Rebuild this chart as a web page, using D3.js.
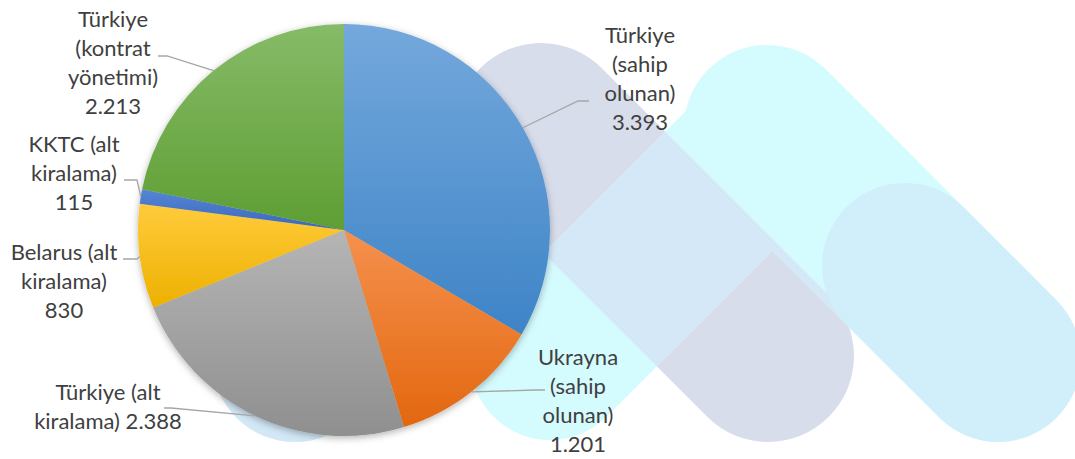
<!DOCTYPE html>
<html>
<head>
<meta charset="utf-8">
<script src="https://cdn.jsdelivr.net/npm/d3@7/dist/d3.min.js"></script>
<style>
  body { margin: 0; background: #fff; }
  .lbl { font-family: Lato, "Open Sans", sans-serif; font-size: 22px; fill: #404040; }
  .leader { fill: none; stroke: #a6a6a6; stroke-width: 1.3; }
</style>
</head>
<body>
<div id="chart"></div>
<script>
// ---- data ----
var categories = ["Türkiye (sahip olunan)", "Ukrayna (sahip olunan)", "Türkiye (alt kiralama)",
                  "Belarus (alt kiralama)", "KKTC (alt kiralama)", "Türkiye (kontrat yönetimi)"];
var values = [3393, 1201, 2388, 830, 115, 2213];

// slice gradients (top, bottom)
var sliceColors = [["#74a8dc", "#3e84c7"], ["#f5914e", "#e3670f"], ["#b5b5b5", "#8f8f8f"],
                   ["#ffcb3c", "#edb100"], ["#5686d6", "#3a67ba"], ["#86bb68", "#5e9e33"]];

// label layout: centre x, first baseline, words per line, value inline or not, leader elbow/end
var labelLayout = [
  {x: 640, y: 43,  wrap: [1, 1, 1], inline: false, elbow: [578, 101], end: [589, 101]},
  {x: 578, y: 365, wrap: [1, 1, 1], inline: false, elbow: [535, 390], end: [545, 390]},
  {x: 108, y: 400, wrap: [2, 1],    inline: true,  elbow: [171, 408], end: [164, 408]},
  {x: 64,  y: 260, wrap: [2, 1],    inline: false, elbow: [137, 259], end: [123, 259]},
  {x: 74,  y: 152, wrap: [2, 1],    inline: false, elbow: [137, 180], end: [124, 180]},
  {x: 113, y: 27,  wrap: [1, 1, 1], inline: false, elbow: [167, 56],  end: [158, 56]}
];

var width = 1075, height = 459;
var cx = 344, cy = 230, radius = 206;
var lineGap = 29;

var fmt = d3.formatLocale({decimal: ",", thousands: ".", grouping: [3], currency: ["", ""]}).format(",d");

var svg = d3.select("#chart").append("svg")
    .attr("width", width)
    .attr("height", height);

var defs = svg.append("defs");

// ---- background watermark (pills) ----
var pills = [
  {name: "F", c1: [295, 359], c2: [420, 234], r: 83, fill: "#d2e8f6"},
  {name: "A", c1: [541, 129], c2: [768, 356], r: 86, fill: "#d8ddec"},
  {name: "D", c1: [767, 128], c2: [960, 321], r: 83, fill: "#d4fbfe"},
  {name: "E", c1: [550, 360], c2: [776, 134], r: 80, fill: "#d4fbfe"},
  {name: "C", c1: [905, 266], c2: [998, 359], r: 83, fill: "#d1eefb"}
];

function pillAttrs(sel) {
  sel.attr("x", function(p) { return -p.r; })
    .attr("y", function(p) { return -p.r; })
    .attr("height", function(p) { return 2 * p.r; })
    .attr("rx", function(p) { return p.r; })
    .attr("width", function(p) {
      return Math.hypot(p.c2[0] - p.c1[0], p.c2[1] - p.c1[1]) + 2 * p.r;
    })
    .attr("transform", function(p) {
      var ang = Math.atan2(p.c2[1] - p.c1[1], p.c2[0] - p.c1[0]) * 180 / Math.PI;
      return "translate(" + p.c1[0] + "," + p.c1[1] + ") rotate(" + ang + ")";
    });
}

var byName = {};
pills.forEach(function(p) { byName[p.name] = p; });

defs.append("clipPath").attr("id", "clipA")
  .selectAll("rect").data([byName.A]).enter().append("rect").call(pillAttrs);

var wm = svg.append("g").attr("class", "watermark");
wm.selectAll("rect.base")
  .data([byName.F, byName.A, byName.D, byName.E])
  .enter().append("rect").attr("class", "base")
  .call(pillAttrs)
  .attr("fill", function(p) { return p.fill; });
// where the cyan band crosses the grey one
wm.append("g").attr("clip-path", "url(#clipA)")
  .selectAll("rect").data([byName.D, byName.E]).enter().append("rect")
  .call(pillAttrs).attr("fill", "#d5e8f7");
wm.selectAll("rect.top").data([byName.C]).enter().append("rect").attr("class", "top")
  .call(pillAttrs).attr("fill", function(p) { return p.fill; });

// ---- pie ----
var shadow = defs.append("filter").attr("id", "shadow")
    .attr("x", "-10%").attr("y", "-10%").attr("width", "120%").attr("height", "120%");
shadow.append("feDropShadow").attr("dx", 0).attr("dy", 2).attr("stdDeviation", 3.5)
    .attr("flood-color", "#000").attr("flood-opacity", 0.3);

sliceColors.forEach(function(c, i) {
  var g = defs.append("linearGradient").attr("id", "grad" + i)
      .attr("x1", 0).attr("y1", 0).attr("x2", 0).attr("y2", 1);
  g.append("stop").attr("offset", "0%").attr("stop-color", c[0]);
  g.append("stop").attr("offset", "100%").attr("stop-color", c[1]);
});

var pie = d3.pie().sort(null).value(function(d) { return d; });
var arcs = pie(values);

var arc = d3.arc().innerRadius(0).outerRadius(radius);

var pieGroup = svg.append("g")
    .attr("transform", "translate(" + cx + "," + cy + ")")
    .attr("filter", "url(#shadow)");

pieGroup.selectAll("path.slice")
  .data(arcs)
  .enter().append("path")
    .attr("class", "slice")
    .attr("d", arc)
    .attr("fill", function(d, i) { return "url(#grad" + i + ")"; });

// ---- leader lines ----
function edgePoint(d) {
  var a = (d.startAngle + d.endAngle) / 2;
  return [cx + radius * Math.sin(a), cy - radius * Math.cos(a)];
}

svg.selectAll("path.leader")
  .data(arcs)
  .enter().append("path")
    .attr("class", "leader")
    .attr("d", function(d, i) {
      var L = labelLayout[i];
      return d3.line()([edgePoint(d), L.elbow, L.end]);
    });

// ---- labels ----
function labelLines(i) {
  var words = categories[i].split(" "), L = labelLayout[i], out = [], k = 0;
  L.wrap.forEach(function(n) { out.push(words.slice(k, k + n).join(" ")); k += n; });
  if (L.inline) out[out.length - 1] += " " + fmt(values[i]);
  else out.push(fmt(values[i]));
  return out;
}

var labels = svg.selectAll("text.lbl")
  .data(arcs)
  .enter().append("text")
    .attr("class", "lbl")
    .attr("text-anchor", "middle");

labels.each(function(d, i) {
  var L = labelLayout[i];
  d3.select(this).selectAll("tspan")
    .data(labelLines(i))
    .enter().append("tspan")
      .attr("x", L.x)
      .attr("y", function(t, j) { return L.y + j * lineGap; })
      .text(function(t) { return t; });
});
</script>
</body>
</html>
